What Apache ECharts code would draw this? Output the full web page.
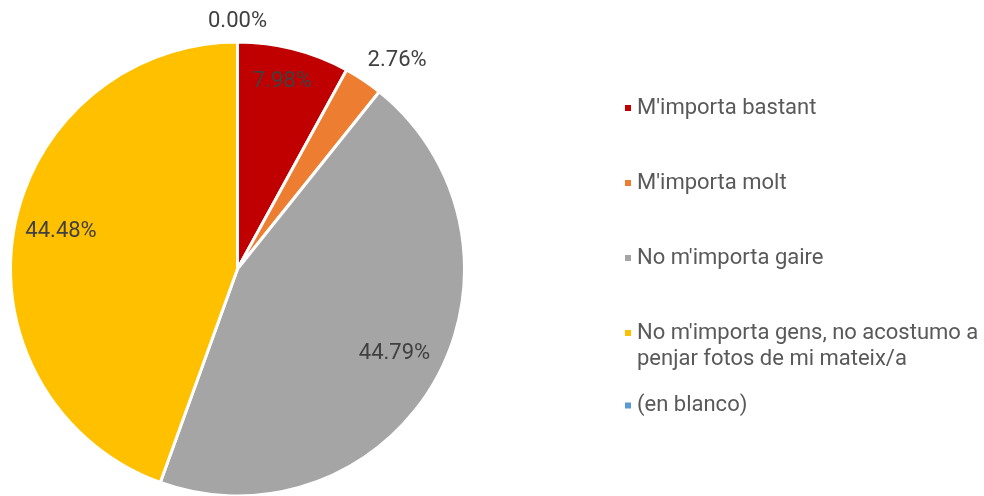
<!DOCTYPE html>
<html>
<head>
<meta charset="utf-8">
<script src="https://cdn.jsdelivr.net/npm/echarts@6/dist/echarts.min.js"></script>
<style>
  html, body { margin: 0; padding: 0; background: #ffffff; }
  #chart { width: 984px; height: 496px; }
</style>
</head>
<body>
<div id="chart"></div>
<script>
// Answer categories and their share of responses (%)
const categories = [
  "M'importa bastant",
  "M'importa molt",
  "No m'importa gaire",
  "No m'importa gens, no acostumo a penjar fotos de mi mateix/a",
  "(en blanco)"
];
const shares = [7.98, 2.76, 44.79, 44.48, 0.00];
const colors = ['#C00000', '#ED7D31', '#A5A5A5', '#FFC000', '#5B9BD5'];

// Pie geometry
const CX = 237.5, CY = 269, R = 227;
// Label placement: [angle clockwise from 12 o'clock (deg), distance as fraction of radius]
const labelPolar = [[13.4, 0.851], [37.5, 1.155], [118.4, 0.786], [282.1, 0.795], [0, 1.092]];
// Legend row tops (px)
const legendTops = [90, 165, 240, 289, 387.5];

const FONT = 'Roboto, "Open Sans", sans-serif';

function wrapName(name, maxChars) {
  const words = name.split(' ');
  const lines = [];
  let cur = '';
  words.forEach(w => {
    const next = cur ? cur + ' ' + w : w;
    if (next.length > maxChars && cur) { lines.push(cur); cur = w; }
    else cur = next;
  });
  if (cur) lines.push(cur);
  // keep the marker beside the first line of a wrapped entry
  return lines.length > 1 ? '\n' + lines.join('\n') : lines[0];
}

const chart = echarts.init(document.getElementById('chart'), null, { renderer: 'canvas' });

const legends = categories.map((name, i) => ({
  data: [name],
  orient: 'vertical',
  left: 618,
  top: legendTops[i],
  icon: 'rect',
  itemWidth: 8,
  itemHeight: 8,
  selectedMode: false,
  formatter: n => wrapName(n, 32),
  textStyle: {
    fontFamily: FONT,
    fontSize: 22,
    lineHeight: 26,
    color: '#595959'
  }
}));

chart.setOption({
  animation: false,
  color: colors,
  legend: legends,
  series: [{
    type: 'pie',
    center: [CX, CY],
    radius: [0, R],
    startAngle: 90,
    clockwise: true,
    avoidLabelOverlap: false,
    itemStyle: { borderColor: '#ffffff', borderWidth: 3 },
    label: {
      show: true,
      position: 'inside',
      formatter: p => p.value.toFixed(2) + '%',
      fontFamily: FONT,
      fontSize: 22,
      color: '#404040'
    },
    labelLine: { show: false },
    labelLayout: function (p) {
      const pos = labelPolar[p.dataIndex];
      const rad = pos[0] * Math.PI / 180;
      return {
        x: CX + R * pos[1] * Math.sin(rad),
        y: CY - R * pos[1] * Math.cos(rad),
        align: 'center',
        verticalAlign: 'middle'
      };
    },
    emphasis: { disabled: true },
    data: categories.map((name, i) => ({
      name: name,
      value: shares[i],
      itemStyle: { color: colors[i] }
    }))
  }]
});
</script>
</body>
</html>
